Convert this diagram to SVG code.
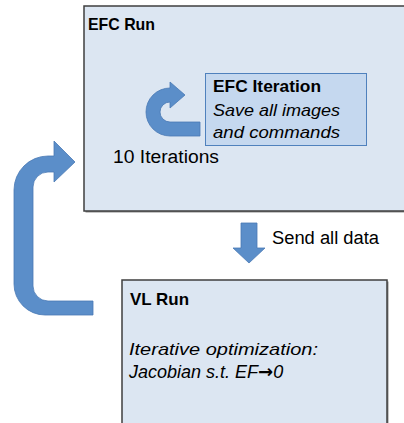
<svg xmlns="http://www.w3.org/2000/svg" width="404" height="423" viewBox="0 0 404 423">
<style>
.box{fill:#dce6f2;stroke:#3f3f3f;stroke-width:1.5}
.shadow{fill:#8c8c8c}
.inner{fill:#c5d8ef;stroke:#4f81bd;stroke-width:1}
.arrow{fill:#5b8ec9;stroke:#4a7ab5;stroke-width:0.8}
text{font-family:"Liberation Sans",Arial,sans-serif;fill:#000}
.b{font-weight:bold;font-size:17px}
.i{font-style:italic;font-size:17px}
.r{font-size:18px}
.sym{font-family:"DejaVu Sans",sans-serif;font-style:normal;font-weight:bold}
</style>
<rect width="404" height="423" fill="#ffffff"/>
<g id="efc-run">
<rect class="shadow" x="85.5" y="7.5" width="330" height="205"/>
<rect class="box" x="84" y="6" width="330" height="205"/>
<text class="b" x="88" y="30" textLength="67" lengthAdjust="spacingAndGlyphs">EFC Run</text>
</g>
<g id="efc-iteration">
<rect class="inner" x="205.5" y="73.5" width="161" height="72"/>
<text class="b" x="213" y="92" textLength="108" lengthAdjust="spacingAndGlyphs">EFC Iteration</text>
<text class="i" x="213" y="116" textLength="127" lengthAdjust="spacingAndGlyphs">Save all images</text>
<text class="i" x="213" y="138" textLength="127" lengthAdjust="spacingAndGlyphs">and commands</text>
</g>
<g id="vl-run">
<rect class="shadow" x="123.5" y="281.5" width="265" height="160"/>
<rect class="box" x="122" y="280" width="265" height="160"/>
<text class="b" x="130" y="305" textLength="59" lengthAdjust="spacingAndGlyphs">VL Run</text>
<text class="i" x="129" y="355" textLength="189" lengthAdjust="spacingAndGlyphs">Iterative optimization:</text>
<text class="i" x="129" y="378" style="font-size:18px">Jacobian s.t. EF<tspan class="sym">→</tspan>0</text>
</g>
<g id="connectors">
<path class="arrow" d="M200,122 L170,122 A10,10 0 0 1 170,102 L170,108 L185,95 L170,82 L170,88 A24,24 0 0 0 170,136 L200,136 Z"/>
<text class="r" x="113" y="163" textLength="106" lengthAdjust="spacingAndGlyphs">10 Iterations</text>
<path class="arrow" d="M93,315 L45,315 A31,31 0 0 1 14,284 L14,190 A34,34 0 0 1 48,156 L54,156 L54,141 L75,162 L54,182 L54,172 L48,172 A15,15 0 0 0 33,187 L33,286 A15,15 0 0 0 48,301 L93,301 Z"/>
<path class="arrow" d="M241,223 L257,223 L257,248 L265,248 L249,263 L233,248 L241,248 Z"/>
<text class="r" x="272" y="244" textLength="107" lengthAdjust="spacingAndGlyphs">Send all data</text>
</g>
</svg>
